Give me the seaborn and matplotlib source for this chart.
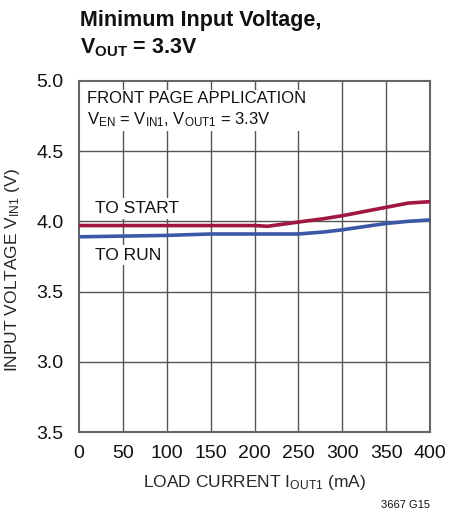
import numpy as np
import pandas as pd
import matplotlib
matplotlib.use("Agg")
import matplotlib.pyplot as plt
import seaborn as sns

# values
load_current = [0, 50, 100, 150, 200, 215, 250, 280, 300, 350, 375, 400]
v_start = [3.97, 3.97, 3.97, 3.97, 3.97, 3.965, 3.995, 4.02, 4.04, 4.10, 4.13, 4.14]
v_run = [3.89, 3.895, 3.90, 3.91, 3.91, 3.91, 3.91, 3.925, 3.94, 3.985, 4.00, 4.01]

x_ticks = [0, 50, 100, 150, 200, 250, 300, 350, 400]
y_ticks = [2.5, 3.0, 3.5, 4.0, 4.5, 5.0]
y_tick_labels = ["3.5", "3.0", "3.5", "4.0", "4.5", "5.0"]

df = pd.DataFrame({
    "load": load_current * 2,
    "vin": v_start + v_run,
    "curve": ["TO START"] * len(load_current) + ["TO RUN"] * len(load_current),
})

sns.set_style("white")
plt.rcParams["font.family"] = ["Liberation Sans", "DejaVu Sans"]
plt.rcParams["mathtext.fontset"] = "custom"
plt.rcParams["mathtext.rm"] = "Liberation Sans"
plt.rcParams["mathtext.bf"] = "Liberation Sans:bold"
plt.rcParams["text.color"] = "#111111"

fig = plt.figure(figsize=(4.62, 5.15), dpi=100)
ax = fig.add_axes([0.171, 0.161, 0.760, 0.682])

for xv in x_ticks[1:-1]:
    ax.axvline(xv, color="#555555", lw=1.0, zorder=1)
for yv in y_ticks[1:-1]:
    ax.axhline(yv, color="#555555", lw=1.0, zorder=1)

sns.lineplot(data=df, x="load", y="vin", hue="curve",
             palette={"TO START": "#a0173f", "TO RUN": "#3b58a6"},
             lw=2.6, legend=False, ax=ax, zorder=3)

ax.set_xlim(0, 400)
ax.set_ylim(2.5, 5.0)
ax.set_xticks(x_ticks)
ax.set_yticks(y_ticks)
ax.set_yticklabels(y_tick_labels)
ax.tick_params(axis="x", length=0, labelsize=14, pad=9, labelcolor="#111111")
ax.tick_params(axis="y", length=0, labelsize=14, pad=11, labelcolor="#111111")
for s in ax.spines.values():
    s.set_color("#666666")
    s.set_linewidth(1.5)

ax.set_xlabel(r"LOAD CURRENT I$\mathregular{_{OUT1}}$ (mA)", fontsize=12.5, labelpad=8)
ax.set_ylabel(r"INPUT VOLTAGE V$\mathregular{_{IN1}}$ (V)", fontsize=12.5)
ax.yaxis.set_label_coords(-0.162, 0.46)

box = dict(facecolor="white", edgecolor="none", pad=2)
ax.text(9, 4.93, "FRONT PAGE APPLICATION\n"
        r"V$\mathregular{_{EN}}$ = V$\mathregular{_{IN1}}$, V$\mathregular{_{OUT1}}$ = 3.3V",
        fontsize=12, va="top", ha="left", bbox=box, zorder=2, linespacing=1.3)
ax.text(18, 4.09, "TO START", fontsize=12.5, va="center", bbox=box, zorder=2)
ax.text(18, 3.76, "TO RUN", fontsize=12.5, va="center", bbox=box, zorder=2)

fig.text(0.173, 0.96, "Minimum Input Voltage,", fontsize=15.5, fontweight="bold", va="center")
fig.text(0.173, 0.907, r"V$\mathregular{_{OUT}}$ = 3.3V", fontsize=15.5, fontweight="bold", va="center")
fig.text(0.93, 0.01, "3667 G15", fontsize=8, ha="right", va="bottom")

fig.savefig("out.png", dpi=100)
